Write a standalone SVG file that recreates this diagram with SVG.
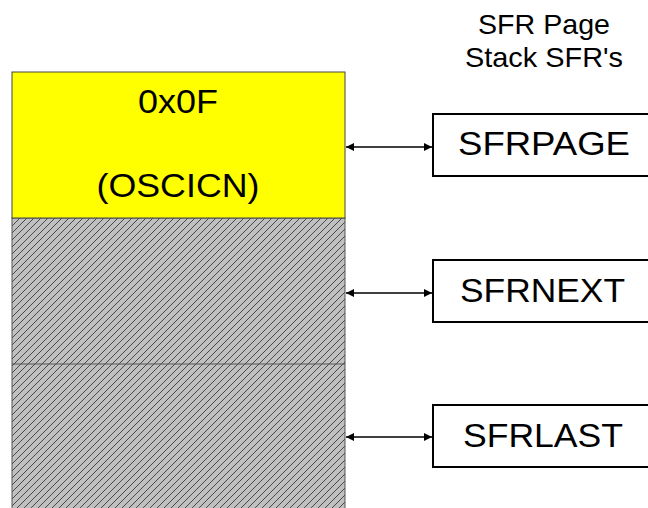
<svg xmlns="http://www.w3.org/2000/svg" width="648" height="508" viewBox="0 0 648 508">
<style>
text{font-family:"Liberation Sans",Arial,sans-serif;fill:#000}
.reg{font-size:34px}
.box{fill:#fff;stroke:#000;stroke-width:2}
.conn{stroke:#000;stroke-width:1.5;fill:none;marker-start:url(#ah);marker-end:url(#ah)}
</style>
<defs>
<pattern id="hatch" patternUnits="userSpaceOnUse" width="7" height="7">
<rect width="7" height="7" fill="#c0c0c0"/>
<path d="M-1,1 L1,-1 M0,7 L7,0 M6,8 L8,6" stroke="#3a3a3a" stroke-width="0.9"/>
</pattern>
<marker id="ah" viewBox="0 0 10 10" refX="10" refY="5" markerWidth="8" markerHeight="8" markerUnits="userSpaceOnUse" orient="auto-start-reverse">
<path d="M0,0 L10,5 L0,10 z" fill="#000"/>
</marker>
</defs>
<g id="stack">
<rect x="12" y="218" width="333" height="300" fill="url(#hatch)" stroke="#555" stroke-width="1"/>
<line x1="12" y1="364" x2="345" y2="364" stroke="#555" stroke-width="1.2"/>
<rect x="12" y="72" width="333" height="146" fill="#ffff00" stroke="#444" stroke-width="1"/>
<text x="178" y="113" font-size="33" text-anchor="middle" textLength="80" lengthAdjust="spacingAndGlyphs">0x0F</text>
<text x="178" y="197" font-size="33" text-anchor="middle" textLength="163" lengthAdjust="spacingAndGlyphs">(OSCICN)</text>
</g>
<g id="title">
<text x="544" y="34" font-size="28" text-anchor="middle" textLength="132" lengthAdjust="spacingAndGlyphs">SFR Page</text>
<text x="544" y="67" font-size="28" text-anchor="middle" textLength="158" lengthAdjust="spacingAndGlyphs">Stack SFR's</text>
</g>
<g id="sfrpage">
<rect class="box" x="433" y="114" width="230" height="62"/>
<text class="reg" x="544" y="155" text-anchor="middle" textLength="172" lengthAdjust="spacingAndGlyphs">SFRPAGE</text>
</g>
<g id="sfrnext">
<rect class="box" x="433" y="260" width="230" height="62"/>
<text class="reg" x="542.5" y="302" text-anchor="middle" textLength="165" lengthAdjust="spacingAndGlyphs">SFRNEXT</text>
</g>
<g id="sfrlast">
<rect class="box" x="433" y="405" width="230" height="62"/>
<text class="reg" x="543" y="447" text-anchor="middle" textLength="160" lengthAdjust="spacingAndGlyphs">SFRLAST</text>
</g>
<g id="connectors">
<line class="conn" x1="346" y1="147" x2="432" y2="147"/>
<line class="conn" x1="346" y1="293" x2="432" y2="293"/>
<line class="conn" x1="346" y1="437" x2="432" y2="437"/>
</g>
</svg>
